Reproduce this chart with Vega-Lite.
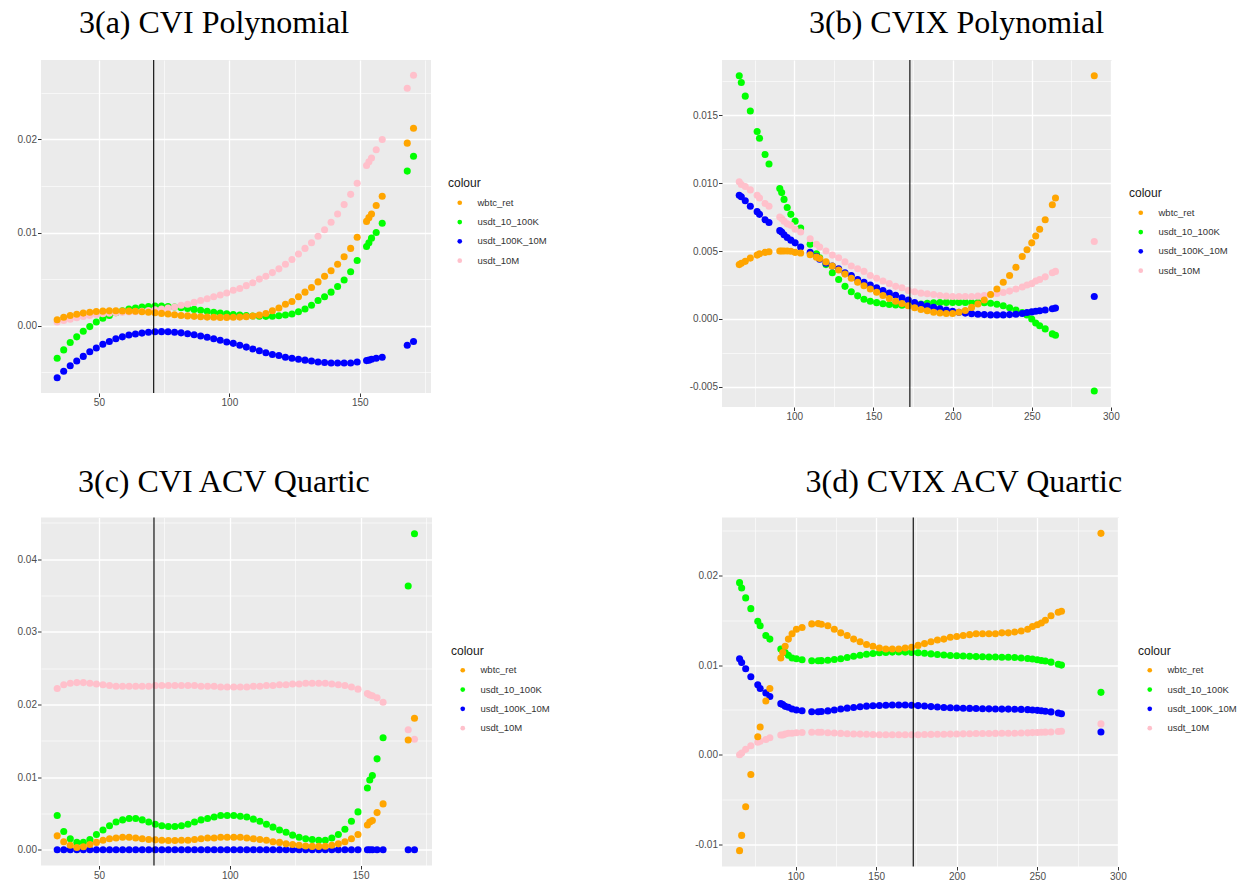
{
"$schema": "https://vega.github.io/schema/vega-lite/v6.json",
"background": "white",
"padding": {"left": 17, "top": 7, "right": 0, "bottom": 0},
"columns": 2,
"spacing": {"row": 110.5, "column": 290},
"bounds": "flush",
"resolve": {"scale": {"x": "independent", "y": "independent", "color": "independent"}, "legend": {"color": "independent"}},
"config": {
  "view": {"fill": "#EBEBEB", "stroke": null},
  "font": "Liberation Sans",
  "axis": {"domain": false, "grid": true, "gridColor": "#FFFFFF", "tickColor": "#333333", "tickSize": 3.5, "tickWidth": 1, "labelColor": "#4D4D4D", "labelFont": "Liberation Sans", "labelFontSize": 10, "labelPadding": 1, "labelOverlap": false, "labelFlush": false},
  "legend": {"padding": 0, "symbolSize": 22, "symbolType": "circle", "symbolStrokeWidth": 0, "labelFontSize": 9.5, "labelColor": "#333333", "labelFont": "Liberation Sans", "titleFont": "Liberation Sans", "titleFontSize": 12, "titleFontWeight": "normal", "titleColor": "#1A1A1A", "titlePadding": 8, "rowPadding": 8.3, "symbolOffset": 7, "labelOffset": 13},
  "title": {"font": "Liberation Serif", "fontSize": 32, "fontWeight": "normal", "color": "#000000", "anchor": "start", "frame": "group", "baseline": "alphabetic"}
},
"datasets": {
"a": [
{"colour":"usdt_10_100K","x":34,"y":-0.0035},{"colour":"usdt_10_100K","x":36.5,"y":-0.0026},{"colour":"usdt_10_100K","x":39,"y":-0.0018},{"colour":"usdt_10_100K","x":41.5,"y":-0.0012},{"colour":"usdt_10_100K","x":44,"y":-0.0006},{"colour":"usdt_10_100K","x":46.5,"y":-0.0001},{"colour":"usdt_10_100K","x":49,"y":0.0004},{"colour":"usdt_10_100K","x":51.5,"y":0.0008},{"colour":"usdt_10_100K","x":54,"y":0.0011},{"colour":"usdt_10_100K","x":56.5,"y":0.0014},{"colour":"usdt_10_100K","x":59,"y":0.0016},{"colour":"usdt_10_100K","x":61.5,"y":0.0018},{"colour":"usdt_10_100K","x":64,"y":0.0019},{"colour":"usdt_10_100K","x":66.5,"y":0.002},{"colour":"usdt_10_100K","x":69,"y":0.00205},{"colour":"usdt_10_100K","x":71.5,"y":0.0021},{"colour":"usdt_10_100K","x":74,"y":0.0021},{"colour":"usdt_10_100K","x":76.5,"y":0.00205},{"colour":"usdt_10_100K","x":79,"y":0.002},{"colour":"usdt_10_100K","x":81.5,"y":0.00193},{"colour":"usdt_10_100K","x":84,"y":0.00185},{"colour":"usdt_10_100K","x":86.5,"y":0.00175},{"colour":"usdt_10_100K","x":89,"y":0.00165},{"colour":"usdt_10_100K","x":91.5,"y":0.00155},{"colour":"usdt_10_100K","x":94,"y":0.00145},{"colour":"usdt_10_100K","x":96.5,"y":0.00136},{"colour":"usdt_10_100K","x":99,"y":0.00128},{"colour":"usdt_10_100K","x":101.5,"y":0.0012},{"colour":"usdt_10_100K","x":104,"y":0.00114},{"colour":"usdt_10_100K","x":106.5,"y":0.00108},{"colour":"usdt_10_100K","x":109,"y":0.00104},{"colour":"usdt_10_100K","x":111.5,"y":0.00101},{"colour":"usdt_10_100K","x":114,"y":0.001},{"colour":"usdt_10_100K","x":116.5,"y":0.00101},{"colour":"usdt_10_100K","x":119,"y":0.00106},{"colour":"usdt_10_100K","x":121.5,"y":0.00114},{"colour":"usdt_10_100K","x":124,"y":0.00126},{"colour":"usdt_10_100K","x":126.5,"y":0.0015},{"colour":"usdt_10_100K","x":129,"y":0.0018},{"colour":"usdt_10_100K","x":131.5,"y":0.0022},{"colour":"usdt_10_100K","x":134,"y":0.0027},{"colour":"usdt_10_100K","x":136.5,"y":0.0031},{"colour":"usdt_10_100K","x":139,"y":0.0036},{"colour":"usdt_10_100K","x":141.5,"y":0.0042},{"colour":"usdt_10_100K","x":144,"y":0.0049},{"colour":"usdt_10_100K","x":146.5,"y":0.0058},{"colour":"usdt_10_100K","x":149,"y":0.007},{"colour":"usdt_10_100K","x":152.6,"y":0.0085},{"colour":"usdt_10_100K","x":153.5,"y":0.0089},{"colour":"usdt_10_100K","x":154.5,"y":0.0094},{"colour":"usdt_10_100K","x":156.3,"y":0.01},{"colour":"usdt_10_100K","x":158.6,"y":0.011},{"colour":"usdt_10_100K","x":168.2,"y":0.0166},{"colour":"usdt_10_100K","x":170.6,"y":0.0182},
{"colour":"usdt_100K_10M","x":34,"y":-0.0056},{"colour":"usdt_100K_10M","x":36.5,"y":-0.0049},{"colour":"usdt_100K_10M","x":39,"y":-0.0043},{"colour":"usdt_100K_10M","x":41.5,"y":-0.0038},{"colour":"usdt_100K_10M","x":44,"y":-0.0033},{"colour":"usdt_100K_10M","x":46.5,"y":-0.0028},{"colour":"usdt_100K_10M","x":49,"y":-0.0024},{"colour":"usdt_100K_10M","x":51.5,"y":-0.002},{"colour":"usdt_100K_10M","x":54,"y":-0.0017},{"colour":"usdt_100K_10M","x":56.5,"y":-0.0014},{"colour":"usdt_100K_10M","x":59,"y":-0.0012},{"colour":"usdt_100K_10M","x":61.5,"y":-0.001},{"colour":"usdt_100K_10M","x":64,"y":-0.0009},{"colour":"usdt_100K_10M","x":66.5,"y":-0.0008},{"colour":"usdt_100K_10M","x":69,"y":-0.0007},{"colour":"usdt_100K_10M","x":71.5,"y":-0.00065},{"colour":"usdt_100K_10M","x":74,"y":-0.00064},{"colour":"usdt_100K_10M","x":76.5,"y":-0.00066},{"colour":"usdt_100K_10M","x":79,"y":-0.0007},{"colour":"usdt_100K_10M","x":81.5,"y":-0.00077},{"colour":"usdt_100K_10M","x":84,"y":-0.00086},{"colour":"usdt_100K_10M","x":86.5,"y":-0.00097},{"colour":"usdt_100K_10M","x":89,"y":-0.0011},{"colour":"usdt_100K_10M","x":91.5,"y":-0.00125},{"colour":"usdt_100K_10M","x":94,"y":-0.0014},{"colour":"usdt_100K_10M","x":96.5,"y":-0.00157},{"colour":"usdt_100K_10M","x":99,"y":-0.00175},{"colour":"usdt_100K_10M","x":101.5,"y":-0.0019},{"colour":"usdt_100K_10M","x":104,"y":-0.0021},{"colour":"usdt_100K_10M","x":106.5,"y":-0.0023},{"colour":"usdt_100K_10M","x":109,"y":-0.0025},{"colour":"usdt_100K_10M","x":111.5,"y":-0.0027},{"colour":"usdt_100K_10M","x":114,"y":-0.0029},{"colour":"usdt_100K_10M","x":116.5,"y":-0.0031},{"colour":"usdt_100K_10M","x":119,"y":-0.0032},{"colour":"usdt_100K_10M","x":121.5,"y":-0.0034},{"colour":"usdt_100K_10M","x":124,"y":-0.0035},{"colour":"usdt_100K_10M","x":126.5,"y":-0.0036},{"colour":"usdt_100K_10M","x":129,"y":-0.0037},{"colour":"usdt_100K_10M","x":131.5,"y":-0.0038},{"colour":"usdt_100K_10M","x":134,"y":-0.0039},{"colour":"usdt_100K_10M","x":136.5,"y":-0.00395},{"colour":"usdt_100K_10M","x":139,"y":-0.004},{"colour":"usdt_100K_10M","x":141.5,"y":-0.004},{"colour":"usdt_100K_10M","x":144,"y":-0.004},{"colour":"usdt_100K_10M","x":146.5,"y":-0.004},{"colour":"usdt_100K_10M","x":149,"y":-0.0039},{"colour":"usdt_100K_10M","x":152.6,"y":-0.00375},{"colour":"usdt_100K_10M","x":153.5,"y":-0.0037},{"colour":"usdt_100K_10M","x":154.5,"y":-0.0036},{"colour":"usdt_100K_10M","x":156.3,"y":-0.0035},{"colour":"usdt_100K_10M","x":158.6,"y":-0.0034},{"colour":"usdt_100K_10M","x":168.2,"y":-0.0021},{"colour":"usdt_100K_10M","x":170.6,"y":-0.0017},
{"colour":"usdt_10M","x":34,"y":0.0004},{"colour":"usdt_10M","x":36.5,"y":0.00055},{"colour":"usdt_10M","x":39,"y":0.0007},{"colour":"usdt_10M","x":41.5,"y":0.00085},{"colour":"usdt_10M","x":44,"y":0.00098},{"colour":"usdt_10M","x":46.5,"y":0.0011},{"colour":"usdt_10M","x":49,"y":0.0012},{"colour":"usdt_10M","x":51.5,"y":0.00128},{"colour":"usdt_10M","x":54,"y":0.00134},{"colour":"usdt_10M","x":56.5,"y":0.00139},{"colour":"usdt_10M","x":59,"y":0.00143},{"colour":"usdt_10M","x":61.5,"y":0.00147},{"colour":"usdt_10M","x":64,"y":0.0015},{"colour":"usdt_10M","x":66.5,"y":0.00155},{"colour":"usdt_10M","x":69,"y":0.00162},{"colour":"usdt_10M","x":71.5,"y":0.0017},{"colour":"usdt_10M","x":74,"y":0.0018},{"colour":"usdt_10M","x":76.5,"y":0.0019},{"colour":"usdt_10M","x":79,"y":0.002},{"colour":"usdt_10M","x":81.5,"y":0.0022},{"colour":"usdt_10M","x":84,"y":0.0023},{"colour":"usdt_10M","x":86.5,"y":0.0025},{"colour":"usdt_10M","x":89,"y":0.0027},{"colour":"usdt_10M","x":91.5,"y":0.0029},{"colour":"usdt_10M","x":94,"y":0.0031},{"colour":"usdt_10M","x":96.5,"y":0.0033},{"colour":"usdt_10M","x":99,"y":0.0035},{"colour":"usdt_10M","x":101.5,"y":0.0038},{"colour":"usdt_10M","x":104,"y":0.004},{"colour":"usdt_10M","x":106.5,"y":0.0043},{"colour":"usdt_10M","x":109,"y":0.0046},{"colour":"usdt_10M","x":111.5,"y":0.005},{"colour":"usdt_10M","x":114,"y":0.0053},{"colour":"usdt_10M","x":116.5,"y":0.0057},{"colour":"usdt_10M","x":119,"y":0.0061},{"colour":"usdt_10M","x":121.5,"y":0.0066},{"colour":"usdt_10M","x":124,"y":0.0071},{"colour":"usdt_10M","x":126.5,"y":0.0077},{"colour":"usdt_10M","x":129,"y":0.0083},{"colour":"usdt_10M","x":131.5,"y":0.0089},{"colour":"usdt_10M","x":134,"y":0.0096},{"colour":"usdt_10M","x":136.5,"y":0.0103},{"colour":"usdt_10M","x":139,"y":0.0111},{"colour":"usdt_10M","x":141.5,"y":0.012},{"colour":"usdt_10M","x":144,"y":0.013},{"colour":"usdt_10M","x":146.5,"y":0.0141},{"colour":"usdt_10M","x":149,"y":0.0153},{"colour":"usdt_10M","x":152.6,"y":0.0172},{"colour":"usdt_10M","x":153.5,"y":0.0176},{"colour":"usdt_10M","x":154.5,"y":0.018},{"colour":"usdt_10M","x":156.3,"y":0.0189},{"colour":"usdt_10M","x":158.6,"y":0.02},{"colour":"usdt_10M","x":168.2,"y":0.0255},{"colour":"usdt_10M","x":170.6,"y":0.0269},
{"colour":"wbtc_ret","x":34,"y":0.00064},{"colour":"wbtc_ret","x":36.5,"y":0.0009},{"colour":"wbtc_ret","x":39,"y":0.0011},{"colour":"wbtc_ret","x":41.5,"y":0.00122},{"colour":"wbtc_ret","x":44,"y":0.00135},{"colour":"wbtc_ret","x":46.5,"y":0.00145},{"colour":"wbtc_ret","x":49,"y":0.00152},{"colour":"wbtc_ret","x":51.5,"y":0.00156},{"colour":"wbtc_ret","x":54,"y":0.00159},{"colour":"wbtc_ret","x":56.5,"y":0.0016},{"colour":"wbtc_ret","x":59,"y":0.00158},{"colour":"wbtc_ret","x":61.5,"y":0.00156},{"colour":"wbtc_ret","x":64,"y":0.00154},{"colour":"wbtc_ret","x":66.5,"y":0.0015},{"colour":"wbtc_ret","x":69,"y":0.00145},{"colour":"wbtc_ret","x":71.5,"y":0.00139},{"colour":"wbtc_ret","x":74,"y":0.00132},{"colour":"wbtc_ret","x":76.5,"y":0.00125},{"colour":"wbtc_ret","x":79,"y":0.00117},{"colour":"wbtc_ret","x":81.5,"y":0.0011},{"colour":"wbtc_ret","x":84,"y":0.00105},{"colour":"wbtc_ret","x":86.5,"y":0.001},{"colour":"wbtc_ret","x":89,"y":0.00095},{"colour":"wbtc_ret","x":91.5,"y":0.00092},{"colour":"wbtc_ret","x":94,"y":0.0009},{"colour":"wbtc_ret","x":96.5,"y":0.00089},{"colour":"wbtc_ret","x":99,"y":0.00089},{"colour":"wbtc_ret","x":101.5,"y":0.0009},{"colour":"wbtc_ret","x":104,"y":0.00092},{"colour":"wbtc_ret","x":106.5,"y":0.00097},{"colour":"wbtc_ret","x":109,"y":0.00104},{"colour":"wbtc_ret","x":111.5,"y":0.00113},{"colour":"wbtc_ret","x":114,"y":0.0013},{"colour":"wbtc_ret","x":116.5,"y":0.0016},{"colour":"wbtc_ret","x":119,"y":0.0019},{"colour":"wbtc_ret","x":121.5,"y":0.0023},{"colour":"wbtc_ret","x":124,"y":0.0026},{"colour":"wbtc_ret","x":126.5,"y":0.0031},{"colour":"wbtc_ret","x":129,"y":0.0036},{"colour":"wbtc_ret","x":131.5,"y":0.0041},{"colour":"wbtc_ret","x":134,"y":0.0047},{"colour":"wbtc_ret","x":136.5,"y":0.0053},{"colour":"wbtc_ret","x":139,"y":0.0059},{"colour":"wbtc_ret","x":141.5,"y":0.0066},{"colour":"wbtc_ret","x":144,"y":0.0074},{"colour":"wbtc_ret","x":146.5,"y":0.0083},{"colour":"wbtc_ret","x":149,"y":0.0095},{"colour":"wbtc_ret","x":152.6,"y":0.0112},{"colour":"wbtc_ret","x":153.5,"y":0.0116},{"colour":"wbtc_ret","x":154.5,"y":0.012},{"colour":"wbtc_ret","x":156.3,"y":0.0129},{"colour":"wbtc_ret","x":158.6,"y":0.0139},{"colour":"wbtc_ret","x":168.2,"y":0.0196},{"colour":"wbtc_ret","x":170.6,"y":0.0212}
],
"b": [
{"colour":"usdt_10_100K","x":65.2,"y":0.0179},{"colour":"usdt_10_100K","x":66.5,"y":0.0174},{"colour":"usdt_10_100K","x":69,"y":0.0164},{"colour":"usdt_10_100K","x":72.2,"y":0.0153},{"colour":"usdt_10_100K","x":76.5,"y":0.0138},{"colour":"usdt_10_100K","x":78,"y":0.0133},{"colour":"usdt_10_100K","x":81.5,"y":0.0121},{"colour":"usdt_10_100K","x":84,"y":0.0114},{"colour":"usdt_10_100K","x":90.8,"y":0.0096},{"colour":"usdt_10_100K","x":92,"y":0.0093},{"colour":"usdt_10_100K","x":93.5,"y":0.0088},{"colour":"usdt_10_100K","x":95.5,"y":0.0082},{"colour":"usdt_10_100K","x":97.8,"y":0.0077},{"colour":"usdt_10_100K","x":100.5,"y":0.0072},{"colour":"usdt_10_100K","x":104,"y":0.0067},{"colour":"usdt_10_100K","x":110,"y":0.0055},{"colour":"usdt_10_100K","x":114,"y":0.0048},{"colour":"usdt_10_100K","x":116,"y":0.0045},{"colour":"usdt_10_100K","x":120,"y":0.004},{"colour":"usdt_10_100K","x":124,"y":0.0034},{"colour":"usdt_10_100K","x":128,"y":0.0029},{"colour":"usdt_10_100K","x":132,"y":0.0024},{"colour":"usdt_10_100K","x":136,"y":0.002},{"colour":"usdt_10_100K","x":140,"y":0.0017},{"colour":"usdt_10_100K","x":144,"y":0.00145},{"colour":"usdt_10_100K","x":148,"y":0.0013},{"colour":"usdt_10_100K","x":152,"y":0.0012},{"colour":"usdt_10_100K","x":156,"y":0.00112},{"colour":"usdt_10_100K","x":160,"y":0.00106},{"colour":"usdt_10_100K","x":164,"y":0.00103},{"colour":"usdt_10_100K","x":168,"y":0.00101},{"colour":"usdt_10_100K","x":172,"y":0.00101},{"colour":"usdt_10_100K","x":176,"y":0.00104},{"colour":"usdt_10_100K","x":180,"y":0.0011},{"colour":"usdt_10_100K","x":184,"y":0.00115},{"colour":"usdt_10_100K","x":188,"y":0.00119},{"colour":"usdt_10_100K","x":192,"y":0.00121},{"colour":"usdt_10_100K","x":196,"y":0.00122},{"colour":"usdt_10_100K","x":200,"y":0.00122},{"colour":"usdt_10_100K","x":204,"y":0.00122},{"colour":"usdt_10_100K","x":208,"y":0.00122},{"colour":"usdt_10_100K","x":212,"y":0.00121},{"colour":"usdt_10_100K","x":216,"y":0.0012},{"colour":"usdt_10_100K","x":220,"y":0.00119},{"colour":"usdt_10_100K","x":224,"y":0.00115},{"colour":"usdt_10_100K","x":228,"y":0.00108},{"colour":"usdt_10_100K","x":232,"y":0.00097},{"colour":"usdt_10_100K","x":236,"y":0.00082},{"colour":"usdt_10_100K","x":240,"y":0.00065},{"colour":"usdt_10_100K","x":244,"y":0.00047},{"colour":"usdt_10_100K","x":247,"y":0.0003},{"colour":"usdt_10_100K","x":250,"y":0.0},{"colour":"usdt_10_100K","x":252.5,"y":-0.0003},{"colour":"usdt_10_100K","x":255,"y":-0.0005},{"colour":"usdt_10_100K","x":258.5,"y":-0.00073},{"colour":"usdt_10_100K","x":263,"y":-0.0011},{"colour":"usdt_10_100K","x":265,"y":-0.0012},{"colour":"usdt_10_100K","x":289.5,"y":-0.0053},
{"colour":"usdt_100K_10M","x":65.2,"y":0.0091},{"colour":"usdt_100K_10M","x":66.5,"y":0.009},{"colour":"usdt_100K_10M","x":69,"y":0.0087},{"colour":"usdt_100K_10M","x":72.2,"y":0.0083},{"colour":"usdt_100K_10M","x":76.5,"y":0.0079},{"colour":"usdt_100K_10M","x":78,"y":0.0077},{"colour":"usdt_100K_10M","x":81.5,"y":0.0073},{"colour":"usdt_100K_10M","x":84,"y":0.0071},{"colour":"usdt_100K_10M","x":90.8,"y":0.0065},{"colour":"usdt_100K_10M","x":92,"y":0.0064},{"colour":"usdt_100K_10M","x":93.5,"y":0.0062},{"colour":"usdt_100K_10M","x":95.5,"y":0.006},{"colour":"usdt_100K_10M","x":97.8,"y":0.0058},{"colour":"usdt_100K_10M","x":100.5,"y":0.0056},{"colour":"usdt_100K_10M","x":104,"y":0.0053},{"colour":"usdt_100K_10M","x":110,"y":0.0049},{"colour":"usdt_100K_10M","x":114,"y":0.0046},{"colour":"usdt_100K_10M","x":116,"y":0.0044},{"colour":"usdt_100K_10M","x":120,"y":0.0041},{"colour":"usdt_100K_10M","x":124,"y":0.0039},{"colour":"usdt_100K_10M","x":128,"y":0.0037},{"colour":"usdt_100K_10M","x":132,"y":0.0034},{"colour":"usdt_100K_10M","x":136,"y":0.0032},{"colour":"usdt_100K_10M","x":140,"y":0.0029},{"colour":"usdt_100K_10M","x":144,"y":0.0027},{"colour":"usdt_100K_10M","x":148,"y":0.0025},{"colour":"usdt_100K_10M","x":152,"y":0.0023},{"colour":"usdt_100K_10M","x":156,"y":0.0021},{"colour":"usdt_100K_10M","x":160,"y":0.0019},{"colour":"usdt_100K_10M","x":164,"y":0.00175},{"colour":"usdt_100K_10M","x":168,"y":0.00155},{"colour":"usdt_100K_10M","x":172,"y":0.0014},{"colour":"usdt_100K_10M","x":176,"y":0.0012},{"colour":"usdt_100K_10M","x":180,"y":0.00107},{"colour":"usdt_100K_10M","x":184,"y":0.00096},{"colour":"usdt_100K_10M","x":188,"y":0.00085},{"colour":"usdt_100K_10M","x":192,"y":0.00075},{"colour":"usdt_100K_10M","x":196,"y":0.00065},{"colour":"usdt_100K_10M","x":200,"y":0.00056},{"colour":"usdt_100K_10M","x":204,"y":0.00049},{"colour":"usdt_100K_10M","x":208,"y":0.00043},{"colour":"usdt_100K_10M","x":212,"y":0.00039},{"colour":"usdt_100K_10M","x":216,"y":0.00035},{"colour":"usdt_100K_10M","x":220,"y":0.00032},{"colour":"usdt_100K_10M","x":224,"y":0.0003},{"colour":"usdt_100K_10M","x":228,"y":0.0003},{"colour":"usdt_100K_10M","x":232,"y":0.0003},{"colour":"usdt_100K_10M","x":236,"y":0.00032},{"colour":"usdt_100K_10M","x":240,"y":0.00035},{"colour":"usdt_100K_10M","x":244,"y":0.0004},{"colour":"usdt_100K_10M","x":247,"y":0.00047},{"colour":"usdt_100K_10M","x":250,"y":0.00052},{"colour":"usdt_100K_10M","x":252.5,"y":0.00057},{"colour":"usdt_100K_10M","x":255,"y":0.0006},{"colour":"usdt_100K_10M","x":258.5,"y":0.00066},{"colour":"usdt_100K_10M","x":263,"y":0.00075},{"colour":"usdt_100K_10M","x":265,"y":0.0008},{"colour":"usdt_100K_10M","x":289.5,"y":0.00165},
{"colour":"usdt_10M","x":65.2,"y":0.0101},{"colour":"usdt_10M","x":66.5,"y":0.0099},{"colour":"usdt_10M","x":69,"y":0.00975},{"colour":"usdt_10M","x":72.2,"y":0.0095},{"colour":"usdt_10M","x":76.5,"y":0.0091},{"colour":"usdt_10M","x":78,"y":0.0089},{"colour":"usdt_10M","x":81.5,"y":0.0085},{"colour":"usdt_10M","x":84,"y":0.0083},{"colour":"usdt_10M","x":90.8,"y":0.0075},{"colour":"usdt_10M","x":92,"y":0.0074},{"colour":"usdt_10M","x":93.5,"y":0.0072},{"colour":"usdt_10M","x":95.5,"y":0.007},{"colour":"usdt_10M","x":97.8,"y":0.0069},{"colour":"usdt_10M","x":100.5,"y":0.0066},{"colour":"usdt_10M","x":104,"y":0.0064},{"colour":"usdt_10M","x":110,"y":0.0059},{"colour":"usdt_10M","x":114,"y":0.0055},{"colour":"usdt_10M","x":116,"y":0.0053},{"colour":"usdt_10M","x":120,"y":0.005},{"colour":"usdt_10M","x":124,"y":0.0047},{"colour":"usdt_10M","x":128,"y":0.0045},{"colour":"usdt_10M","x":132,"y":0.0042},{"colour":"usdt_10M","x":136,"y":0.0039},{"colour":"usdt_10M","x":140,"y":0.0037},{"colour":"usdt_10M","x":144,"y":0.0035},{"colour":"usdt_10M","x":148,"y":0.0032},{"colour":"usdt_10M","x":152,"y":0.003},{"colour":"usdt_10M","x":156,"y":0.0028},{"colour":"usdt_10M","x":160,"y":0.0026},{"colour":"usdt_10M","x":164,"y":0.0024},{"colour":"usdt_10M","x":168,"y":0.0023},{"colour":"usdt_10M","x":172,"y":0.0021},{"colour":"usdt_10M","x":176,"y":0.002},{"colour":"usdt_10M","x":180,"y":0.0019},{"colour":"usdt_10M","x":184,"y":0.00185},{"colour":"usdt_10M","x":188,"y":0.0018},{"colour":"usdt_10M","x":192,"y":0.00173},{"colour":"usdt_10M","x":196,"y":0.00168},{"colour":"usdt_10M","x":200,"y":0.00165},{"colour":"usdt_10M","x":204,"y":0.00165},{"colour":"usdt_10M","x":208,"y":0.00165},{"colour":"usdt_10M","x":212,"y":0.00165},{"colour":"usdt_10M","x":216,"y":0.00168},{"colour":"usdt_10M","x":220,"y":0.00172},{"colour":"usdt_10M","x":224,"y":0.0018},{"colour":"usdt_10M","x":228,"y":0.00187},{"colour":"usdt_10M","x":232,"y":0.00195},{"colour":"usdt_10M","x":236,"y":0.00205},{"colour":"usdt_10M","x":240,"y":0.0022},{"colour":"usdt_10M","x":244,"y":0.00235},{"colour":"usdt_10M","x":247,"y":0.0025},{"colour":"usdt_10M","x":250,"y":0.0026},{"colour":"usdt_10M","x":252.5,"y":0.0028},{"colour":"usdt_10M","x":255,"y":0.0029},{"colour":"usdt_10M","x":258.5,"y":0.0031},{"colour":"usdt_10M","x":263,"y":0.0034},{"colour":"usdt_10M","x":265,"y":0.0035},{"colour":"usdt_10M","x":289.5,"y":0.0057},
{"colour":"wbtc_ret","x":65.2,"y":0.004},{"colour":"wbtc_ret","x":66.5,"y":0.0041},{"colour":"wbtc_ret","x":69,"y":0.00424},{"colour":"wbtc_ret","x":72.2,"y":0.00448},{"colour":"wbtc_ret","x":76.5,"y":0.0047},{"colour":"wbtc_ret","x":78,"y":0.0048},{"colour":"wbtc_ret","x":81.5,"y":0.0049},{"colour":"wbtc_ret","x":84,"y":0.00495},{"colour":"wbtc_ret","x":90.8,"y":0.005},{"colour":"wbtc_ret","x":92,"y":0.005},{"colour":"wbtc_ret","x":93.5,"y":0.005},{"colour":"wbtc_ret","x":95.5,"y":0.005},{"colour":"wbtc_ret","x":97.8,"y":0.00498},{"colour":"wbtc_ret","x":100.5,"y":0.0049},{"colour":"wbtc_ret","x":104,"y":0.00485},{"colour":"wbtc_ret","x":110,"y":0.00473},{"colour":"wbtc_ret","x":114,"y":0.00455},{"colour":"wbtc_ret","x":116,"y":0.00445},{"colour":"wbtc_ret","x":120,"y":0.0042},{"colour":"wbtc_ret","x":124,"y":0.0039},{"colour":"wbtc_ret","x":128,"y":0.0036},{"colour":"wbtc_ret","x":132,"y":0.0033},{"colour":"wbtc_ret","x":136,"y":0.003},{"colour":"wbtc_ret","x":140,"y":0.0027},{"colour":"wbtc_ret","x":144,"y":0.00245},{"colour":"wbtc_ret","x":148,"y":0.0022},{"colour":"wbtc_ret","x":152,"y":0.00197},{"colour":"wbtc_ret","x":156,"y":0.00173},{"colour":"wbtc_ret","x":160,"y":0.0015},{"colour":"wbtc_ret","x":164,"y":0.0013},{"colour":"wbtc_ret","x":168,"y":0.00113},{"colour":"wbtc_ret","x":172,"y":0.00097},{"colour":"wbtc_ret","x":176,"y":0.00083},{"colour":"wbtc_ret","x":180,"y":0.0007},{"colour":"wbtc_ret","x":184,"y":0.0006},{"colour":"wbtc_ret","x":188,"y":0.0005},{"colour":"wbtc_ret","x":192,"y":0.00044},{"colour":"wbtc_ret","x":196,"y":0.0004},{"colour":"wbtc_ret","x":200,"y":0.0004},{"colour":"wbtc_ret","x":204,"y":0.0005},{"colour":"wbtc_ret","x":208,"y":0.00062},{"colour":"wbtc_ret","x":212,"y":0.00085},{"colour":"wbtc_ret","x":216,"y":0.0011},{"colour":"wbtc_ret","x":220,"y":0.0014},{"colour":"wbtc_ret","x":224,"y":0.0018},{"colour":"wbtc_ret","x":228,"y":0.0022},{"colour":"wbtc_ret","x":232,"y":0.0027},{"colour":"wbtc_ret","x":236,"y":0.0032},{"colour":"wbtc_ret","x":240,"y":0.0038},{"colour":"wbtc_ret","x":244,"y":0.0046},{"colour":"wbtc_ret","x":247,"y":0.0051},{"colour":"wbtc_ret","x":250,"y":0.0056},{"colour":"wbtc_ret","x":252.5,"y":0.0061},{"colour":"wbtc_ret","x":255,"y":0.0066},{"colour":"wbtc_ret","x":258.5,"y":0.0073},{"colour":"wbtc_ret","x":263,"y":0.0084},{"colour":"wbtc_ret","x":265,"y":0.0089},{"colour":"wbtc_ret","x":289.5,"y":0.0179}
],
"c": [
{"colour":"usdt_10_100K","x":34,"y":0.0047},{"colour":"usdt_10_100K","x":36.5,"y":0.0025},{"colour":"usdt_10_100K","x":39,"y":0.0015},{"colour":"usdt_10_100K","x":41.5,"y":0.001},{"colour":"usdt_10_100K","x":44,"y":0.001},{"colour":"usdt_10_100K","x":46.5,"y":0.0014},{"colour":"usdt_10_100K","x":49,"y":0.0021},{"colour":"usdt_10_100K","x":51.5,"y":0.0027},{"colour":"usdt_10_100K","x":54,"y":0.0033},{"colour":"usdt_10_100K","x":56.5,"y":0.0038},{"colour":"usdt_10_100K","x":59,"y":0.0041},{"colour":"usdt_10_100K","x":61.5,"y":0.0043},{"colour":"usdt_10_100K","x":64,"y":0.0043},{"colour":"usdt_10_100K","x":66.5,"y":0.0041},{"colour":"usdt_10_100K","x":69,"y":0.0038},{"colour":"usdt_10_100K","x":71.5,"y":0.0035},{"colour":"usdt_10_100K","x":74,"y":0.0033},{"colour":"usdt_10_100K","x":76.5,"y":0.0032},{"colour":"usdt_10_100K","x":79,"y":0.0032},{"colour":"usdt_10_100K","x":81.5,"y":0.0033},{"colour":"usdt_10_100K","x":84,"y":0.0035},{"colour":"usdt_10_100K","x":86.5,"y":0.0038},{"colour":"usdt_10_100K","x":89,"y":0.0041},{"colour":"usdt_10_100K","x":91.5,"y":0.0043},{"colour":"usdt_10_100K","x":94,"y":0.0045},{"colour":"usdt_10_100K","x":96.5,"y":0.0047},{"colour":"usdt_10_100K","x":99,"y":0.0047},{"colour":"usdt_10_100K","x":101.5,"y":0.0047},{"colour":"usdt_10_100K","x":104,"y":0.0046},{"colour":"usdt_10_100K","x":106.5,"y":0.0045},{"colour":"usdt_10_100K","x":109,"y":0.0042},{"colour":"usdt_10_100K","x":111.5,"y":0.0039},{"colour":"usdt_10_100K","x":114,"y":0.0035},{"colour":"usdt_10_100K","x":116.5,"y":0.0031},{"colour":"usdt_10_100K","x":119,"y":0.0027},{"colour":"usdt_10_100K","x":121.5,"y":0.0024},{"colour":"usdt_10_100K","x":124,"y":0.002},{"colour":"usdt_10_100K","x":126.5,"y":0.0017},{"colour":"usdt_10_100K","x":129,"y":0.0015},{"colour":"usdt_10_100K","x":131.5,"y":0.0014},{"colour":"usdt_10_100K","x":134,"y":0.0013},{"colour":"usdt_10_100K","x":136.5,"y":0.0013},{"colour":"usdt_10_100K","x":139,"y":0.0016},{"colour":"usdt_10_100K","x":141.5,"y":0.0021},{"colour":"usdt_10_100K","x":144,"y":0.0028},{"colour":"usdt_10_100K","x":146.5,"y":0.0039},{"colour":"usdt_10_100K","x":149,"y":0.0052},{"colour":"usdt_10_100K","x":152.6,"y":0.0085},{"colour":"usdt_10_100K","x":153.5,"y":0.0096},{"colour":"usdt_10_100K","x":154.5,"y":0.0102},{"colour":"usdt_10_100K","x":156.3,"y":0.0125},{"colour":"usdt_10_100K","x":158.6,"y":0.0154},{"colour":"usdt_10_100K","x":168.2,"y":0.0363},{"colour":"usdt_10_100K","x":170.6,"y":0.0435},
{"colour":"usdt_100K_10M","x":34,"y":0},{"colour":"usdt_100K_10M","x":36.5,"y":0},{"colour":"usdt_100K_10M","x":39,"y":0},{"colour":"usdt_100K_10M","x":41.5,"y":0},{"colour":"usdt_100K_10M","x":44,"y":0},{"colour":"usdt_100K_10M","x":46.5,"y":0},{"colour":"usdt_100K_10M","x":49,"y":0},{"colour":"usdt_100K_10M","x":51.5,"y":0},{"colour":"usdt_100K_10M","x":54,"y":0},{"colour":"usdt_100K_10M","x":56.5,"y":0},{"colour":"usdt_100K_10M","x":59,"y":0},{"colour":"usdt_100K_10M","x":61.5,"y":0},{"colour":"usdt_100K_10M","x":64,"y":0},{"colour":"usdt_100K_10M","x":66.5,"y":0},{"colour":"usdt_100K_10M","x":69,"y":0},{"colour":"usdt_100K_10M","x":71.5,"y":0},{"colour":"usdt_100K_10M","x":74,"y":0},{"colour":"usdt_100K_10M","x":76.5,"y":0},{"colour":"usdt_100K_10M","x":79,"y":0},{"colour":"usdt_100K_10M","x":81.5,"y":0},{"colour":"usdt_100K_10M","x":84,"y":0},{"colour":"usdt_100K_10M","x":86.5,"y":0},{"colour":"usdt_100K_10M","x":89,"y":0},{"colour":"usdt_100K_10M","x":91.5,"y":0},{"colour":"usdt_100K_10M","x":94,"y":0},{"colour":"usdt_100K_10M","x":96.5,"y":0},{"colour":"usdt_100K_10M","x":99,"y":0},{"colour":"usdt_100K_10M","x":101.5,"y":0},{"colour":"usdt_100K_10M","x":104,"y":0},{"colour":"usdt_100K_10M","x":106.5,"y":0},{"colour":"usdt_100K_10M","x":109,"y":0},{"colour":"usdt_100K_10M","x":111.5,"y":0},{"colour":"usdt_100K_10M","x":114,"y":0},{"colour":"usdt_100K_10M","x":116.5,"y":0},{"colour":"usdt_100K_10M","x":119,"y":0},{"colour":"usdt_100K_10M","x":121.5,"y":0},{"colour":"usdt_100K_10M","x":124,"y":0},{"colour":"usdt_100K_10M","x":126.5,"y":0},{"colour":"usdt_100K_10M","x":129,"y":0},{"colour":"usdt_100K_10M","x":131.5,"y":0},{"colour":"usdt_100K_10M","x":134,"y":0},{"colour":"usdt_100K_10M","x":136.5,"y":0},{"colour":"usdt_100K_10M","x":139,"y":0},{"colour":"usdt_100K_10M","x":141.5,"y":0},{"colour":"usdt_100K_10M","x":144,"y":0},{"colour":"usdt_100K_10M","x":146.5,"y":0},{"colour":"usdt_100K_10M","x":149,"y":0},{"colour":"usdt_100K_10M","x":152.6,"y":0},{"colour":"usdt_100K_10M","x":153.5,"y":0},{"colour":"usdt_100K_10M","x":154.5,"y":0},{"colour":"usdt_100K_10M","x":156.3,"y":0},{"colour":"usdt_100K_10M","x":158.6,"y":0},{"colour":"usdt_100K_10M","x":168.2,"y":0},{"colour":"usdt_100K_10M","x":170.6,"y":0},
{"colour":"usdt_10M","x":34,"y":0.0222},{"colour":"usdt_10M","x":36.5,"y":0.0227},{"colour":"usdt_10M","x":39,"y":0.0229},{"colour":"usdt_10M","x":41.5,"y":0.023},{"colour":"usdt_10M","x":44,"y":0.023},{"colour":"usdt_10M","x":46.5,"y":0.0229},{"colour":"usdt_10M","x":49,"y":0.0228},{"colour":"usdt_10M","x":51.5,"y":0.0227},{"colour":"usdt_10M","x":54,"y":0.0226},{"colour":"usdt_10M","x":56.5,"y":0.0225},{"colour":"usdt_10M","x":59,"y":0.0225},{"colour":"usdt_10M","x":61.5,"y":0.0225},{"colour":"usdt_10M","x":64,"y":0.0225},{"colour":"usdt_10M","x":66.5,"y":0.0225},{"colour":"usdt_10M","x":69,"y":0.0225},{"colour":"usdt_10M","x":71.5,"y":0.0226},{"colour":"usdt_10M","x":74,"y":0.0226},{"colour":"usdt_10M","x":76.5,"y":0.0226},{"colour":"usdt_10M","x":79,"y":0.0226},{"colour":"usdt_10M","x":81.5,"y":0.0226},{"colour":"usdt_10M","x":84,"y":0.0226},{"colour":"usdt_10M","x":86.5,"y":0.0226},{"colour":"usdt_10M","x":89,"y":0.0225},{"colour":"usdt_10M","x":91.5,"y":0.0225},{"colour":"usdt_10M","x":94,"y":0.0225},{"colour":"usdt_10M","x":96.5,"y":0.0224},{"colour":"usdt_10M","x":99,"y":0.0224},{"colour":"usdt_10M","x":101.5,"y":0.0224},{"colour":"usdt_10M","x":104,"y":0.0224},{"colour":"usdt_10M","x":106.5,"y":0.0224},{"colour":"usdt_10M","x":109,"y":0.0225},{"colour":"usdt_10M","x":111.5,"y":0.0225},{"colour":"usdt_10M","x":114,"y":0.0226},{"colour":"usdt_10M","x":116.5,"y":0.0226},{"colour":"usdt_10M","x":119,"y":0.0227},{"colour":"usdt_10M","x":121.5,"y":0.0227},{"colour":"usdt_10M","x":124,"y":0.0228},{"colour":"usdt_10M","x":126.5,"y":0.0228},{"colour":"usdt_10M","x":129,"y":0.0229},{"colour":"usdt_10M","x":131.5,"y":0.0229},{"colour":"usdt_10M","x":134,"y":0.0229},{"colour":"usdt_10M","x":136.5,"y":0.0229},{"colour":"usdt_10M","x":139,"y":0.0228},{"colour":"usdt_10M","x":141.5,"y":0.0227},{"colour":"usdt_10M","x":144,"y":0.0226},{"colour":"usdt_10M","x":146.5,"y":0.0224},{"colour":"usdt_10M","x":149,"y":0.0221},{"colour":"usdt_10M","x":152.6,"y":0.0215},{"colour":"usdt_10M","x":153.5,"y":0.0213},{"colour":"usdt_10M","x":154.5,"y":0.0212},{"colour":"usdt_10M","x":156.3,"y":0.0209},{"colour":"usdt_10M","x":158.6,"y":0.0203},{"colour":"usdt_10M","x":168.2,"y":0.0165},{"colour":"usdt_10M","x":170.6,"y":0.0152},
{"colour":"wbtc_ret","x":34,"y":0.0019},{"colour":"wbtc_ret","x":36.5,"y":0.0011},{"colour":"wbtc_ret","x":39,"y":0.0006},{"colour":"wbtc_ret","x":41.5,"y":0.0003},{"colour":"wbtc_ret","x":44,"y":0.0004},{"colour":"wbtc_ret","x":46.5,"y":0.0007},{"colour":"wbtc_ret","x":49,"y":0.001},{"colour":"wbtc_ret","x":51.5,"y":0.0013},{"colour":"wbtc_ret","x":54,"y":0.0015},{"colour":"wbtc_ret","x":56.5,"y":0.0016},{"colour":"wbtc_ret","x":59,"y":0.0017},{"colour":"wbtc_ret","x":61.5,"y":0.0017},{"colour":"wbtc_ret","x":64,"y":0.0016},{"colour":"wbtc_ret","x":66.5,"y":0.0015},{"colour":"wbtc_ret","x":69,"y":0.0014},{"colour":"wbtc_ret","x":71.5,"y":0.00135},{"colour":"wbtc_ret","x":74,"y":0.0013},{"colour":"wbtc_ret","x":76.5,"y":0.00125},{"colour":"wbtc_ret","x":79,"y":0.00125},{"colour":"wbtc_ret","x":81.5,"y":0.0013},{"colour":"wbtc_ret","x":84,"y":0.0013},{"colour":"wbtc_ret","x":86.5,"y":0.0014},{"colour":"wbtc_ret","x":89,"y":0.0015},{"colour":"wbtc_ret","x":91.5,"y":0.0016},{"colour":"wbtc_ret","x":94,"y":0.0016},{"colour":"wbtc_ret","x":96.5,"y":0.0017},{"colour":"wbtc_ret","x":99,"y":0.0017},{"colour":"wbtc_ret","x":101.5,"y":0.0017},{"colour":"wbtc_ret","x":104,"y":0.0017},{"colour":"wbtc_ret","x":106.5,"y":0.0016},{"colour":"wbtc_ret","x":109,"y":0.0015},{"colour":"wbtc_ret","x":111.5,"y":0.0014},{"colour":"wbtc_ret","x":114,"y":0.0013},{"colour":"wbtc_ret","x":116.5,"y":0.0011},{"colour":"wbtc_ret","x":119,"y":0.001},{"colour":"wbtc_ret","x":121.5,"y":0.0008},{"colour":"wbtc_ret","x":124,"y":0.0007},{"colour":"wbtc_ret","x":126.5,"y":0.0006},{"colour":"wbtc_ret","x":129,"y":0.0005},{"colour":"wbtc_ret","x":131.5,"y":0.00045},{"colour":"wbtc_ret","x":134,"y":0.00045},{"colour":"wbtc_ret","x":136.5,"y":0.00047},{"colour":"wbtc_ret","x":139,"y":0.0006},{"colour":"wbtc_ret","x":141.5,"y":0.0008},{"colour":"wbtc_ret","x":144,"y":0.0011},{"colour":"wbtc_ret","x":146.5,"y":0.0015},{"colour":"wbtc_ret","x":149,"y":0.0021},{"colour":"wbtc_ret","x":152.6,"y":0.0034},{"colour":"wbtc_ret","x":153.5,"y":0.0038},{"colour":"wbtc_ret","x":154.5,"y":0.004},{"colour":"wbtc_ret","x":156.3,"y":0.0051},{"colour":"wbtc_ret","x":158.6,"y":0.0063},{"colour":"wbtc_ret","x":168.2,"y":0.0151},{"colour":"wbtc_ret","x":170.6,"y":0.0181}
],
"d": [
{"colour":"usdt_10_100K","x":65.2,"y":0.0192},{"colour":"usdt_10_100K","x":66.5,"y":0.0186},{"colour":"usdt_10_100K","x":69,"y":0.0175},{"colour":"usdt_10_100K","x":72.2,"y":0.0163},{"colour":"usdt_10_100K","x":76.5,"y":0.0149},{"colour":"usdt_10_100K","x":78,"y":0.0144},{"colour":"usdt_10_100K","x":81.5,"y":0.0133},{"colour":"usdt_10_100K","x":84,"y":0.0129},{"colour":"usdt_10_100K","x":90.8,"y":0.0118},{"colour":"usdt_10_100K","x":92,"y":0.0116},{"colour":"usdt_10_100K","x":93.5,"y":0.0114},{"colour":"usdt_10_100K","x":95.5,"y":0.0111},{"colour":"usdt_10_100K","x":97.8,"y":0.0108},{"colour":"usdt_10_100K","x":100.5,"y":0.0107},{"colour":"usdt_10_100K","x":104,"y":0.0106},{"colour":"usdt_10_100K","x":110,"y":0.01048},{"colour":"usdt_10_100K","x":114,"y":0.01048},{"colour":"usdt_10_100K","x":116,"y":0.0105},{"colour":"usdt_10_100K","x":120,"y":0.01055},{"colour":"usdt_10_100K","x":124,"y":0.01062},{"colour":"usdt_10_100K","x":128,"y":0.0107},{"colour":"usdt_10_100K","x":132,"y":0.01085},{"colour":"usdt_10_100K","x":136,"y":0.01098},{"colour":"usdt_10_100K","x":140,"y":0.0111},{"colour":"usdt_10_100K","x":144,"y":0.01122},{"colour":"usdt_10_100K","x":148,"y":0.0113},{"colour":"usdt_10_100K","x":152,"y":0.01137},{"colour":"usdt_10_100K","x":156,"y":0.01142},{"colour":"usdt_10_100K","x":160,"y":0.01145},{"colour":"usdt_10_100K","x":164,"y":0.01146},{"colour":"usdt_10_100K","x":168,"y":0.01145},{"colour":"usdt_10_100K","x":172,"y":0.01142},{"colour":"usdt_10_100K","x":176,"y":0.01138},{"colour":"usdt_10_100K","x":180,"y":0.01133},{"colour":"usdt_10_100K","x":184,"y":0.01125},{"colour":"usdt_10_100K","x":188,"y":0.01118},{"colour":"usdt_10_100K","x":192,"y":0.01112},{"colour":"usdt_10_100K","x":196,"y":0.01108},{"colour":"usdt_10_100K","x":200,"y":0.01105},{"colour":"usdt_10_100K","x":204,"y":0.01102},{"colour":"usdt_10_100K","x":208,"y":0.01098},{"colour":"usdt_10_100K","x":212,"y":0.01095},{"colour":"usdt_10_100K","x":216,"y":0.01093},{"colour":"usdt_10_100K","x":220,"y":0.01091},{"colour":"usdt_10_100K","x":224,"y":0.0109},{"colour":"usdt_10_100K","x":228,"y":0.01088},{"colour":"usdt_10_100K","x":232,"y":0.01087},{"colour":"usdt_10_100K","x":236,"y":0.01085},{"colour":"usdt_10_100K","x":240,"y":0.0108},{"colour":"usdt_10_100K","x":244,"y":0.01073},{"colour":"usdt_10_100K","x":247,"y":0.01068},{"colour":"usdt_10_100K","x":250,"y":0.0106},{"colour":"usdt_10_100K","x":252.5,"y":0.01052},{"colour":"usdt_10_100K","x":255,"y":0.01045},{"colour":"usdt_10_100K","x":258.5,"y":0.01033},{"colour":"usdt_10_100K","x":263,"y":0.0101},{"colour":"usdt_10_100K","x":265,"y":0.01},{"colour":"usdt_10_100K","x":289.5,"y":0.00696},
{"colour":"usdt_100K_10M","x":65.2,"y":0.0107},{"colour":"usdt_100K_10M","x":66.5,"y":0.0103},{"colour":"usdt_100K_10M","x":69,"y":0.0096},{"colour":"usdt_100K_10M","x":72.2,"y":0.0087},{"colour":"usdt_100K_10M","x":76.5,"y":0.0078},{"colour":"usdt_100K_10M","x":78,"y":0.0074},{"colour":"usdt_100K_10M","x":81.5,"y":0.0069},{"colour":"usdt_100K_10M","x":84,"y":0.0065},{"colour":"usdt_100K_10M","x":90.8,"y":0.0057},{"colour":"usdt_100K_10M","x":92,"y":0.0056},{"colour":"usdt_100K_10M","x":93.5,"y":0.0054},{"colour":"usdt_100K_10M","x":95.5,"y":0.0053},{"colour":"usdt_100K_10M","x":97.8,"y":0.0051},{"colour":"usdt_100K_10M","x":100.5,"y":0.005},{"colour":"usdt_100K_10M","x":104,"y":0.0049},{"colour":"usdt_100K_10M","x":110,"y":0.0048},{"colour":"usdt_100K_10M","x":114,"y":0.0048},{"colour":"usdt_100K_10M","x":116,"y":0.00482},{"colour":"usdt_100K_10M","x":120,"y":0.00489},{"colour":"usdt_100K_10M","x":124,"y":0.005},{"colour":"usdt_100K_10M","x":128,"y":0.00511},{"colour":"usdt_100K_10M","x":132,"y":0.0052},{"colour":"usdt_100K_10M","x":136,"y":0.00528},{"colour":"usdt_100K_10M","x":140,"y":0.00535},{"colour":"usdt_100K_10M","x":144,"y":0.00542},{"colour":"usdt_100K_10M","x":148,"y":0.00547},{"colour":"usdt_100K_10M","x":152,"y":0.0055},{"colour":"usdt_100K_10M","x":156,"y":0.00553},{"colour":"usdt_100K_10M","x":160,"y":0.00554},{"colour":"usdt_100K_10M","x":164,"y":0.00555},{"colour":"usdt_100K_10M","x":168,"y":0.00554},{"colour":"usdt_100K_10M","x":172,"y":0.00552},{"colour":"usdt_100K_10M","x":176,"y":0.00548},{"colour":"usdt_100K_10M","x":180,"y":0.00544},{"colour":"usdt_100K_10M","x":184,"y":0.00537},{"colour":"usdt_100K_10M","x":188,"y":0.00532},{"colour":"usdt_100K_10M","x":192,"y":0.00528},{"colour":"usdt_100K_10M","x":196,"y":0.00525},{"colour":"usdt_100K_10M","x":200,"y":0.00522},{"colour":"usdt_100K_10M","x":204,"y":0.00519},{"colour":"usdt_100K_10M","x":208,"y":0.00517},{"colour":"usdt_100K_10M","x":212,"y":0.00515},{"colour":"usdt_100K_10M","x":216,"y":0.00513},{"colour":"usdt_100K_10M","x":220,"y":0.00512},{"colour":"usdt_100K_10M","x":224,"y":0.0051},{"colour":"usdt_100K_10M","x":228,"y":0.00509},{"colour":"usdt_100K_10M","x":232,"y":0.00509},{"colour":"usdt_100K_10M","x":236,"y":0.00508},{"colour":"usdt_100K_10M","x":240,"y":0.00506},{"colour":"usdt_100K_10M","x":244,"y":0.00503},{"colour":"usdt_100K_10M","x":247,"y":0.005},{"colour":"usdt_100K_10M","x":250,"y":0.00495},{"colour":"usdt_100K_10M","x":252.5,"y":0.0049},{"colour":"usdt_100K_10M","x":255,"y":0.00485},{"colour":"usdt_100K_10M","x":258.5,"y":0.00478},{"colour":"usdt_100K_10M","x":263,"y":0.00465},{"colour":"usdt_100K_10M","x":265,"y":0.00458},{"colour":"usdt_100K_10M","x":289.5,"y":0.00254},
{"colour":"usdt_10M","x":65.2,"y":0.0},{"colour":"usdt_10M","x":66.5,"y":0.0002},{"colour":"usdt_10M","x":69,"y":0.0006},{"colour":"usdt_10M","x":72.2,"y":0.001},{"colour":"usdt_10M","x":76.5,"y":0.0014},{"colour":"usdt_10M","x":78,"y":0.0015},{"colour":"usdt_10M","x":81.5,"y":0.0017},{"colour":"usdt_10M","x":84,"y":0.0019},{"colour":"usdt_10M","x":90.8,"y":0.0022},{"colour":"usdt_10M","x":92,"y":0.0022},{"colour":"usdt_10M","x":93.5,"y":0.0023},{"colour":"usdt_10M","x":95.5,"y":0.0024},{"colour":"usdt_10M","x":97.8,"y":0.0024},{"colour":"usdt_10M","x":100.5,"y":0.00245},{"colour":"usdt_10M","x":104,"y":0.00248},{"colour":"usdt_10M","x":110,"y":0.0025},{"colour":"usdt_10M","x":114,"y":0.0025},{"colour":"usdt_10M","x":116,"y":0.0025},{"colour":"usdt_10M","x":120,"y":0.00246},{"colour":"usdt_10M","x":124,"y":0.00242},{"colour":"usdt_10M","x":128,"y":0.00238},{"colour":"usdt_10M","x":132,"y":0.00235},{"colour":"usdt_10M","x":136,"y":0.00232},{"colour":"usdt_10M","x":140,"y":0.0023},{"colour":"usdt_10M","x":144,"y":0.00228},{"colour":"usdt_10M","x":148,"y":0.00226},{"colour":"usdt_10M","x":152,"y":0.00224},{"colour":"usdt_10M","x":156,"y":0.00224},{"colour":"usdt_10M","x":160,"y":0.00224},{"colour":"usdt_10M","x":164,"y":0.00224},{"colour":"usdt_10M","x":168,"y":0.00224},{"colour":"usdt_10M","x":172,"y":0.00224},{"colour":"usdt_10M","x":176,"y":0.00224},{"colour":"usdt_10M","x":180,"y":0.00225},{"colour":"usdt_10M","x":184,"y":0.00227},{"colour":"usdt_10M","x":188,"y":0.00228},{"colour":"usdt_10M","x":192,"y":0.00229},{"colour":"usdt_10M","x":196,"y":0.0023},{"colour":"usdt_10M","x":200,"y":0.00231},{"colour":"usdt_10M","x":204,"y":0.00233},{"colour":"usdt_10M","x":208,"y":0.00235},{"colour":"usdt_10M","x":212,"y":0.00236},{"colour":"usdt_10M","x":216,"y":0.00237},{"colour":"usdt_10M","x":220,"y":0.00237},{"colour":"usdt_10M","x":224,"y":0.00238},{"colour":"usdt_10M","x":228,"y":0.00239},{"colour":"usdt_10M","x":232,"y":0.00239},{"colour":"usdt_10M","x":236,"y":0.0024},{"colour":"usdt_10M","x":240,"y":0.00242},{"colour":"usdt_10M","x":244,"y":0.00244},{"colour":"usdt_10M","x":247,"y":0.00247},{"colour":"usdt_10M","x":250,"y":0.00249},{"colour":"usdt_10M","x":252.5,"y":0.00251},{"colour":"usdt_10M","x":255,"y":0.00252},{"colour":"usdt_10M","x":258.5,"y":0.00254},{"colour":"usdt_10M","x":263,"y":0.00259},{"colour":"usdt_10M","x":265,"y":0.00262},{"colour":"usdt_10M","x":289.5,"y":0.00344},
{"colour":"wbtc_ret","x":65.2,"y":-0.0107},{"colour":"wbtc_ret","x":66.5,"y":-0.009},{"colour":"wbtc_ret","x":69,"y":-0.0058},{"colour":"wbtc_ret","x":72.2,"y":-0.0022},{"colour":"wbtc_ret","x":76.5,"y":0.002},{"colour":"wbtc_ret","x":78,"y":0.0031},{"colour":"wbtc_ret","x":81.5,"y":0.006},{"colour":"wbtc_ret","x":84,"y":0.0074},{"colour":"wbtc_ret","x":90.8,"y":0.0108},{"colour":"wbtc_ret","x":92,"y":0.0114},{"colour":"wbtc_ret","x":93.5,"y":0.0121},{"colour":"wbtc_ret","x":95.5,"y":0.0129},{"colour":"wbtc_ret","x":97.8,"y":0.0135},{"colour":"wbtc_ret","x":100.5,"y":0.014},{"colour":"wbtc_ret","x":104,"y":0.0142},{"colour":"wbtc_ret","x":110,"y":0.0146},{"colour":"wbtc_ret","x":114,"y":0.01463},{"colour":"wbtc_ret","x":116,"y":0.01455},{"colour":"wbtc_ret","x":120,"y":0.0144},{"colour":"wbtc_ret","x":124,"y":0.014},{"colour":"wbtc_ret","x":128,"y":0.0136},{"colour":"wbtc_ret","x":132,"y":0.0133},{"colour":"wbtc_ret","x":136,"y":0.0129},{"colour":"wbtc_ret","x":140,"y":0.0126},{"colour":"wbtc_ret","x":144,"y":0.0123},{"colour":"wbtc_ret","x":148,"y":0.0121},{"colour":"wbtc_ret","x":152,"y":0.0119},{"colour":"wbtc_ret","x":156,"y":0.0118},{"colour":"wbtc_ret","x":160,"y":0.0118},{"colour":"wbtc_ret","x":164,"y":0.0118},{"colour":"wbtc_ret","x":168,"y":0.0119},{"colour":"wbtc_ret","x":172,"y":0.012},{"colour":"wbtc_ret","x":176,"y":0.0122},{"colour":"wbtc_ret","x":180,"y":0.0124},{"colour":"wbtc_ret","x":184,"y":0.0126},{"colour":"wbtc_ret","x":188,"y":0.0128},{"colour":"wbtc_ret","x":192,"y":0.0129},{"colour":"wbtc_ret","x":196,"y":0.0131},{"colour":"wbtc_ret","x":200,"y":0.0132},{"colour":"wbtc_ret","x":204,"y":0.0133},{"colour":"wbtc_ret","x":208,"y":0.0134},{"colour":"wbtc_ret","x":212,"y":0.0135},{"colour":"wbtc_ret","x":216,"y":0.0135},{"colour":"wbtc_ret","x":220,"y":0.0135},{"colour":"wbtc_ret","x":224,"y":0.0135},{"colour":"wbtc_ret","x":228,"y":0.0136},{"colour":"wbtc_ret","x":232,"y":0.0136},{"colour":"wbtc_ret","x":236,"y":0.0137},{"colour":"wbtc_ret","x":240,"y":0.0138},{"colour":"wbtc_ret","x":244,"y":0.014},{"colour":"wbtc_ret","x":247,"y":0.0143},{"colour":"wbtc_ret","x":250,"y":0.0145},{"colour":"wbtc_ret","x":252.5,"y":0.0147},{"colour":"wbtc_ret","x":255,"y":0.015},{"colour":"wbtc_ret","x":258.5,"y":0.0155},{"colour":"wbtc_ret","x":263,"y":0.0159},{"colour":"wbtc_ret","x":265,"y":0.016},{"colour":"wbtc_ret","x":289.5,"y":0.0247}
]
},
"concat": [
{
  "width": 390, "height": 333,
  "title": {"text": "3(a) CVI Polynomial", "dx": 38, "offset": 19},
  "data": {"name": "a"},
  "layer": [
    {"mark": {"type": "circle", "size": 50, "opacity": 1},
     "encoding": {
       "x": {"field": "x", "type": "quantitative", "scale": {"domain": [27.8, 177.3], "nice": false, "zero": false},
             "axis": {"title": null, "values": [50, 75, 100, 125, 150, 175], "labelExpr": "datum.value % 50 === 0 ? datum.label : ''", "gridWidth": {"condition": {"test": "datum.value % 50 !== 0", "value": 0.6}, "value": 1.3}, "tickOpacity": {"condition": {"test": "datum.value % 50 !== 0", "value": 0}, "value": 1}}},
       "y": {"field": "y", "type": "quantitative", "scale": {"domain": [-0.00723, 0.02853], "nice": false, "zero": false},
             "axis": {"title": null, "values": [-0.005, 0, 0.005, 0.01, 0.015, 0.02, 0.025], "labelExpr": "abs(round(datum.value*1000)) % 10 === 5 ? '' : replace(format(datum.value, '.2f'), '\u2212', '-')", "gridWidth": {"condition": {"test": "abs(round(datum.value*1000)) % 10 === 5", "value": 0.6}, "value": 1.3}, "tickOpacity": {"condition": {"test": "abs(round(datum.value*1000)) % 10 === 5", "value": 0}, "value": 1}}},
       "color": {"field": "colour", "type": "nominal", "scale": {"domain": ["wbtc_ret", "usdt_10_100K", "usdt_100K_10M", "usdt_10M"], "range": ["#FFA500", "#00FF00", "#0000FF", "#FFC0CB"]},
                 "legend": {"title": "colour", "orient": "none", "legendX": 407, "legendY": 118}}
     }},
    {"data": {"values": [{"cut": 71}]}, "mark": {"type": "rule", "color": "#000000", "strokeWidth": 1.1}, "encoding": {"x": {"field": "cut", "type": "quantitative"}}}
  ]
},
{
  "width": 390, "height": 347,
  "title": {"text": "3(b) CVIX Polynomial", "dx": 87, "offset": 19},
  "data": {"name": "b"},
  "layer": [
    {"mark": {"type": "circle", "size": 50, "opacity": 1},
     "encoding": {
       "x": {"field": "x", "type": "quantitative", "scale": {"domain": [54.3, 300.7], "nice": false, "zero": false},
             "axis": {"title": null, "values": [75, 100, 125, 150, 175, 200, 225, 250, 275, 300], "labelExpr": "datum.value % 50 === 0 ? datum.label : ''", "gridWidth": {"condition": {"test": "datum.value % 50 !== 0", "value": 0.6}, "value": 1.3}, "tickOpacity": {"condition": {"test": "datum.value % 50 !== 0", "value": 0}, "value": 1}}},
       "y": {"field": "y", "type": "quantitative", "scale": {"domain": [-0.00648, 0.01906], "nice": false, "zero": false},
             "axis": {"title": null, "values": [-0.005, -0.0025, 0, 0.0025, 0.005, 0.0075, 0.01, 0.0125, 0.015, 0.0175], "labelExpr": "abs(round(datum.value*10000)) % 50 === 25 ? '' : replace(format(datum.value, '.3f'), '\u2212', '-')", "gridWidth": {"condition": {"test": "abs(round(datum.value*10000)) % 50 === 25", "value": 0.6}, "value": 1.3}, "tickOpacity": {"condition": {"test": "abs(round(datum.value*10000)) % 50 === 25", "value": 0}, "value": 1}}},
       "color": {"field": "colour", "type": "nominal", "scale": {"domain": ["wbtc_ret", "usdt_10_100K", "usdt_100K_10M", "usdt_10M"], "range": ["#FFA500", "#00FF00", "#0000FF", "#FFC0CB"]},
                 "legend": {"title": "colour", "orient": "none", "legendX": 407, "legendY": 128}}
     }},
    {"data": {"values": [{"cut": 173}]}, "mark": {"type": "rule", "color": "#000000", "strokeWidth": 1.1}, "encoding": {"x": {"field": "cut", "type": "quantitative"}}}
  ]
},
{
  "width": 391, "height": 348,
  "title": {"text": "3(c) CVI ACV Quartic", "dx": 37, "offset": 18},
  "data": {"name": "c"},
  "layer": [
    {"mark": {"type": "circle", "size": 50, "opacity": 1},
     "encoding": {
       "x": {"field": "x", "type": "quantitative", "scale": {"domain": [27.8, 177.3], "nice": false, "zero": false},
             "axis": {"title": null, "values": [50, 75, 100, 125, 150, 175], "labelExpr": "datum.value % 50 === 0 ? datum.label : ''", "gridWidth": {"condition": {"test": "datum.value % 50 !== 0", "value": 0.6}, "value": 1.3}, "tickOpacity": {"condition": {"test": "datum.value % 50 !== 0", "value": 0}, "value": 1}}},
       "y": {"field": "y", "type": "quantitative", "scale": {"domain": [-0.00218, 0.04573], "nice": false, "zero": false},
             "axis": {"title": null, "values": [0, 0.005, 0.01, 0.015, 0.02, 0.025, 0.03, 0.035, 0.04, 0.045], "labelExpr": "abs(round(datum.value*1000)) % 10 === 5 ? '' : replace(format(datum.value, '.2f'), '\u2212', '-')", "gridWidth": {"condition": {"test": "abs(round(datum.value*1000)) % 10 === 5", "value": 0.6}, "value": 1.3}, "tickOpacity": {"condition": {"test": "abs(round(datum.value*1000)) % 10 === 5", "value": 0}, "value": 1}}},
       "color": {"field": "colour", "type": "nominal", "scale": {"domain": ["wbtc_ret", "usdt_10_100K", "usdt_100K_10M", "usdt_10M"], "range": ["#FFA500", "#00FF00", "#0000FF", "#FFC0CB"]},
                 "legend": {"title": "colour", "orient": "none", "legendX": 410, "legendY": 128}}
     }},
    {"data": {"values": [{"cut": 71}]}, "mark": {"type": "rule", "color": "#000000", "strokeWidth": 1.1}, "encoding": {"x": {"field": "cut", "type": "quantitative"}}}
  ]
},
{
  "width": 397, "height": 349,
  "title": {"text": "3(d) CVIX ACV Quartic", "dx": 83.5, "offset": 18},
  "data": {"name": "d"},
  "layer": [
    {"mark": {"type": "circle", "size": 50, "opacity": 1},
     "encoding": {
       "x": {"field": "x", "type": "quantitative", "scale": {"domain": [54.3, 300.7], "nice": false, "zero": false},
             "axis": {"title": null, "values": [75, 100, 125, 150, 175, 200, 225, 250, 275, 300], "labelExpr": "datum.value % 50 === 0 ? datum.label : ''", "gridWidth": {"condition": {"test": "datum.value % 50 !== 0", "value": 0.6}, "value": 1.3}, "tickOpacity": {"condition": {"test": "datum.value % 50 !== 0", "value": 0}, "value": 1}}},
       "y": {"field": "y", "type": "quantitative", "scale": {"domain": [-0.01247, 0.02647], "nice": false, "zero": false},
             "axis": {"title": null, "values": [-0.01, -0.005, 0, 0.005, 0.01, 0.015, 0.02, 0.025], "labelExpr": "abs(round(datum.value*1000)) % 10 === 5 ? '' : replace(format(datum.value, '.2f'), '\u2212', '-')", "gridWidth": {"condition": {"test": "abs(round(datum.value*1000)) % 10 === 5", "value": 0.6}, "value": 1.3}, "tickOpacity": {"condition": {"test": "abs(round(datum.value*1000)) % 10 === 5", "value": 0}, "value": 1}}},
       "color": {"field": "colour", "type": "nominal", "scale": {"domain": ["wbtc_ret", "usdt_10_100K", "usdt_100K_10M", "usdt_10M"], "range": ["#FFA500", "#00FF00", "#0000FF", "#FFC0CB"]},
                 "legend": {"title": "colour", "orient": "none", "legendX": 416, "legendY": 128}}
     }},
    {"data": {"values": [{"cut": 173}]}, "mark": {"type": "rule", "color": "#000000", "strokeWidth": 1.1}, "encoding": {"x": {"field": "cut", "type": "quantitative"}}}
  ]
}
]
}
